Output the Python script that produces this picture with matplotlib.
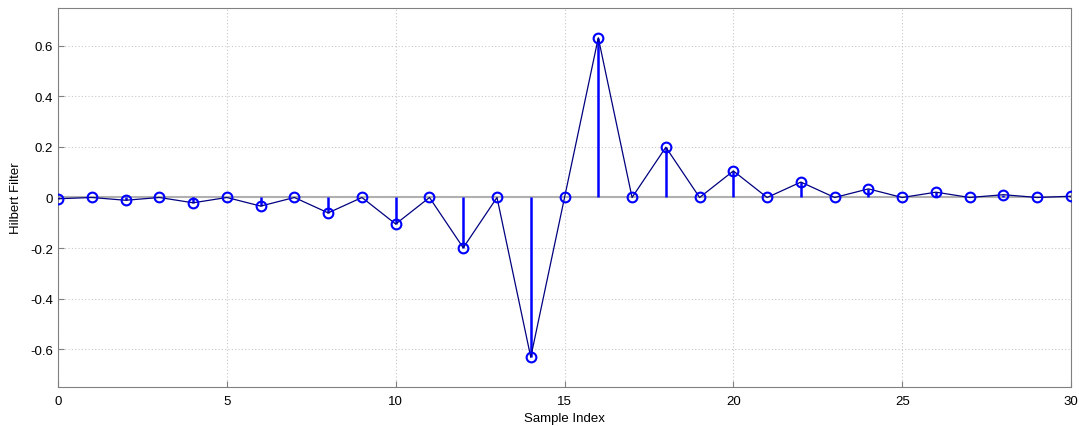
import numpy as np
import matplotlib
matplotlib.use("Agg")
import matplotlib.pyplot as plt

# Windowed Hilbert filter taps, 31 samples
sample_index = list(range(31))
taps = [-0.005, 0.0, -0.011, 0.0, -0.021, 0.0, -0.034, 0.0, -0.061, 0.0,
        -0.105, 0.0, -0.199, 0.0, -0.632, 0.0, 0.632, 0.0, 0.199, 0.0,
        0.105, 0.0, 0.061, 0.0, 0.034, 0.0, 0.021, 0.0, 0.011, 0.0, 0.005]
x_ticks = [0, 5, 10, 15, 20, 25, 30]
y_ticks = [-0.6, -0.4, -0.2, 0, 0.2, 0.4, 0.6]
y_tick_labels = ["-0.6", "-0.4", "-0.2", "0", "0.2", "0.4", "0.6"]

plt.rcParams['font.family'] = ['Liberation Sans', 'DejaVu Sans']

fig = plt.figure(figsize=(10.79, 4.27), dpi=100)
ax = fig.add_axes([0.0538, 0.0913, 0.9388, 0.8877])

ax.axhline(0, color="#b0b0b0", lw=1.5, zorder=1)
ax.vlines(sample_index, 0, taps, color="#0000ff", lw=1.8, zorder=2)
ax.plot(sample_index, taps, color="#000080", lw=0.9, zorder=3)
ax.plot(sample_index, taps, linestyle="none", marker="o", ms=7,
        mfc="none", mec="#0000ff", mew=1.5, zorder=4)

ax.set_xlim(0, 30)
ax.set_ylim(-0.75, 0.75)
ax.set_xticks(x_ticks)
ax.set_yticks(y_ticks)
ax.set_yticklabels(y_tick_labels)
ax.grid(True, color="#c8c8c8", linestyle=(0, (1, 2)), lw=0.8)
ax.set_axisbelow(True)
for s in ax.spines.values():
    s.set_color("#808080")
    s.set_linewidth(0.8)
ax.tick_params(direction="in", length=4, color="#808080", labelsize=9.5,
               labelcolor="black", top=False, right=False)
ax.tick_params(axis="x", pad=6)
ax.set_xlabel("Sample Index", fontsize=9.5, labelpad=3)
ax.set_ylabel("Hilbert Filter", fontsize=9.5, labelpad=6)

fig.savefig("out.png", dpi=100)
